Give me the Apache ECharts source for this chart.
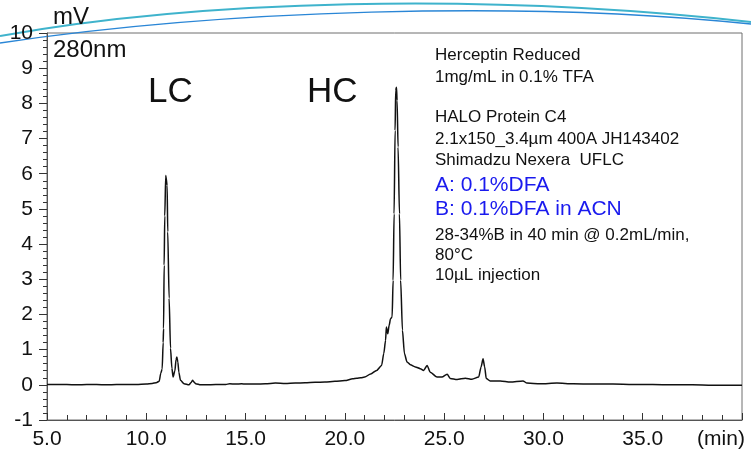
<!DOCTYPE html>
<html>
<head>
<meta charset="utf-8">
<script src="https://cdn.jsdelivr.net/npm/echarts@6/dist/echarts.min.js"></script>
<style>
  html, body { margin: 0; padding: 0; background: #fff; }
  #chart { width: 751px; height: 455px; }
</style>
</head>
<body>
<div id="chart"></div>
<script>
// Retention time (min) of each sample point of the chromatogram
const times = [
  5.0, 5.5, 6.0, 6.5, 7.0, 7.5, 8.0, 8.5, 9.0, 9.5,
  10.0, 10.3, 10.5, 10.65, 10.73, 10.80, 10.85, 10.87, 10.90, 10.93,
  10.98, 11.05, 11.08, 11.15, 11.22, 11.29, 11.35, 11.44, 11.50, 11.54,
  11.59, 11.64, 11.72, 11.90, 12.15, 12.25, 12.33, 12.40, 12.49, 12.74,
  13.0, 13.5, 14.0, 14.2, 14.5, 14.8, 15.0, 15.5, 16.0, 16.5,
  17.0, 17.5, 18.0, 18.5, 19.0, 19.5, 20.0, 20.4, 20.6, 20.8,
  21.0, 21.3, 21.6, 21.85, 21.96, 22.05, 22.09, 22.16, 22.23, 22.30,
  22.38, 22.43, 22.48, 22.53, 22.56, 22.60, 22.63, 22.68, 22.75, 22.81,
  22.90, 23.0, 23.13, 23.30, 23.55, 23.80, 23.97, 24.14, 24.30, 24.64,
  24.89, 25.15, 25.31, 25.65, 26.07, 26.40, 26.74, 26.86, 26.96, 27.04,
  27.12, 27.32, 27.83, 28.33, 28.97, 29.17, 29.84, 30.68, 31.5, 32.5,
  33.5, 34.5, 35.5, 36.5, 37.5, 38.5, 39.5, 40.0
];
// Detector signal (mV) at 280 nm for each time above
const signal = [
  0.01, 0.01, 0.01, 0.00, 0.01, 0.01, 0.00, 0.01, 0.01, 0.01,
  0.02, 0.04, 0.06, 0.10, 0.33, 0.45, 1.2, 1.6, 3.4, 4.8,
  5.95, 5.67, 4.35, 2.46, 1.04, 0.47, 0.22, 0.40, 0.72, 0.79,
  0.65, 0.36, 0.13, 0.03, 0.00, 0.06, 0.13, 0.08, 0.03, 0.00,
  0.00, 0.01, 0.01, 0.03, 0.02, 0.03, 0.02, 0.02, 0.03, 0.05,
  0.04, 0.05, 0.06, 0.07, 0.08, 0.10, 0.12, 0.17, 0.19, 0.20,
  0.22, 0.31, 0.41, 0.55, 0.89, 1.26, 1.64, 1.45, 1.69, 1.88,
  1.93, 2.97, 4.86, 7.23, 8.37, 8.46, 8.08, 6.76, 4.86, 2.97,
  1.55, 0.89, 0.65, 0.57, 0.51, 0.46, 0.41, 0.55, 0.36, 0.22,
  0.22, 0.30, 0.18, 0.15, 0.19, 0.16, 0.22, 0.51, 0.74, 0.51,
  0.18, 0.11, 0.11, 0.08, 0.11, 0.05, 0.03, 0.05, 0.03, 0.02,
  0.02, 0.01, 0.01, 0.00, 0.00, -0.01, -0.01, -0.01
];

// Axis ranges and tick steps
const xRange = [5, 40];
const xStep = 5;
const yRange = [-1, 10];
const yStep = 1;

// Peak names and the method notes shown in the upper right
const peakNames = ['LC', 'HC'];
const noteLines = [
  { text: 'Herceptin Reduced', blue: false },
  { text: '1mg/mL in 0.1% TFA', blue: false },
  { text: 'HALO Protein C4', blue: false },
  { text: '2.1x150_3.4µm 400A JH143402', blue: false },
  { text: 'Shimadzu Nexera  UFLC', blue: false },
  { text: 'A: 0.1%DFA', blue: true },
  { text: 'B: 0.1%DFA in ACN', blue: true },
  { text: '28-34%B in 40 min @ 0.2mL/min,', blue: false },
  { text: '80°C', blue: false },
  { text: '10µL injection', blue: false }
];

const FONT = '"Liberation Sans", Arial, sans-serif';
const points = times.map((t, i) => [t, signal[i]]);

const noteY = [55, 77, 117, 139, 160, 185, 209, 235, 255, 275];
const noteGraphics = noteLines.map((ln, i) => ({
  type: 'text',
  x: 435,
  y: noteY[i],
  style: {
    text: ln.text,
    font: (ln.blue ? '21px ' : '17px ') + FONT,
    fill: ln.blue ? '#1a1aee' : '#111',
    align: 'left',
    verticalAlign: 'middle'
  }
}));

const chart = echarts.init(document.getElementById('chart'), null, { renderer: 'canvas' });
chart.setOption({
  animation: false,
  backgroundColor: '#fff',
  grid: {
    left: 47, right: 9, top: 33, bottom: 35,
    show: true, borderColor: '#6e6e6e', borderWidth: 1
  },
  xAxis: {
    type: 'value',
    min: xRange[0], max: xRange[1], interval: xStep,
    axisLine: { show: true, onZero: false, lineStyle: { color: '#555', width: 1 } },
    axisTick: { show: true, inside: true, length: 7, lineStyle: { color: '#333' } },
    minorTick: { show: true, splitNumber: 5, length: 5, lineStyle: { color: '#333' } },
    splitLine: { show: false },
    axisLabel: {
      margin: 9,
      color: '#111',
      fontFamily: FONT,
      fontSize: 21,
      formatter: v => (v === xRange[1] ? '{m|(min)}' : v.toFixed(1)),
      rich: {
        m: { fontFamily: FONT, fontSize: 21, color: '#111', padding: [0, 42, 0, 0] }
      }
    }
  },
  yAxis: {
    type: 'value',
    min: yRange[0], max: yRange[1], interval: yStep,
    axisLine: { show: true, onZero: false, lineStyle: { color: '#555', width: 1 } },
    axisTick: { show: true, inside: false, length: 8, lineStyle: { color: '#333' } },
    minorTick: { show: true, splitNumber: 5, length: 4, lineStyle: { color: '#333' } },
    splitLine: { show: false },
    axisLabel: {
      margin: 14,
      color: '#111',
      fontFamily: FONT,
      fontSize: 21
    }
  },
  series: [{
    type: 'line',
    data: points,
    showSymbol: false,
    smooth: 0.25,
    smoothMonotone: 'x',
    lineStyle: { color: '#111', width: 1.5 },
    z: 3
  }],
  graphic: [
    // decorative swooshes along the top edge
    {
      type: 'bezierCurve', silent: true,
      shape: { x1: 0, y1: 36, cpx1: 200, cpy1: 0, cpx2: 480, cpy2: -8, x2: 751, y2: 22 },
      style: { stroke: '#3fb3cc', lineWidth: 2, fill: null }
    },
    {
      type: 'bezierCurve', silent: true,
      shape: { x1: 0, y1: 43, cpx1: 220, cpy1: 10, cpx2: 520, cpy2: 0, x2: 751, y2: 24 },
      style: { stroke: '#2a86d6', lineWidth: 1.5, fill: null }
    },
    {
      type: 'text', x: 53, y: 17,
      style: { text: 'mV', font: '24px ' + FONT, fill: '#111', verticalAlign: 'middle' }
    },
    {
      type: 'text', x: 53, y: 50,
      style: { text: '280nm', font: '24px ' + FONT, fill: '#111', verticalAlign: 'middle' }
    },
    {
      type: 'text', x: 148, y: 92,
      style: { text: peakNames[0], font: '35px ' + FONT, fill: '#111', verticalAlign: 'middle' }
    },
    {
      type: 'text', x: 307, y: 92,
      style: { text: peakNames[1], font: '35px ' + FONT, fill: '#111', verticalAlign: 'middle' }
    }
  ].concat(noteGraphics)
});
</script>
</body>
</html>
